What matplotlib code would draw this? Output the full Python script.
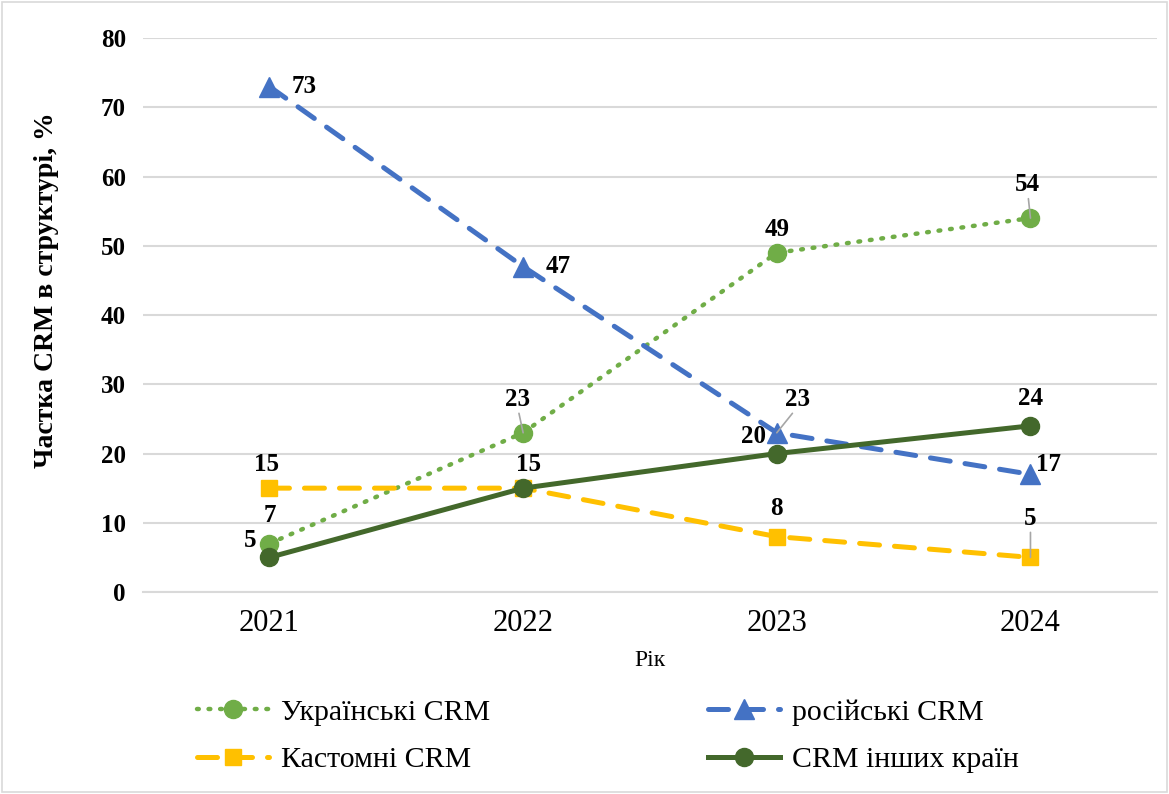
import matplotlib.pyplot as plt
from matplotlib.patches import Rectangle

plt.rcParams['font.family'] = ['Liberation Serif', 'DejaVu Serif']

years = ['2021', '2022', '2023', '2024']
ukr = [7, 23, 49, 54]
rus = [73, 47, 23, 17]
custom = [15, 15, 8, 5]
other = [5, 15, 20, 24]

x = list(range(len(years)))

fig = plt.figure(figsize=(11.69, 7.94), dpi=100)
ax = fig.add_axes([0.122, 0.2544, 0.868, 0.6976])

fig.patches.append(Rectangle((0.002, 0.002), 0.996, 0.996, transform=fig.transFigure,
                             fill=False, edgecolor='#D9D9D9', linewidth=1.2))

l_ukr, = ax.plot(x, ukr, color='#70AD47', linestyle=(0, (0.4, 2.2)), linewidth=3.2,
                 dash_capstyle='round', marker='o', markersize=13, label='Українські CRM', zorder=3)
l_rus, = ax.plot(x, rus, color='#4472C4', linestyle=(0, (4, 3)), linewidth=3.6,
                 dash_capstyle='round', marker='^', markersize=14, label='російські CRM', zorder=3)
l_cus, = ax.plot(x, custom, color='#FFC000', linestyle=(0, (4, 3)), linewidth=3.6,
                 dash_capstyle='round', marker='s', markersize=12, label='Кастомні CRM', zorder=3)
l_oth, = ax.plot(x, other, color='#43682B', linestyle='-', linewidth=3.6,
                 marker='o', markersize=13, label='CRM інших країн', zorder=4)

# label offsets in points (dx, dy) and whether a leader line is drawn
lab_ukr = [((0, 20), False), ((-4, 24), True), ((0, 17), False), ((-2, 24), True)]
lab_rus = [((25, 0), False), ((25, 0), False), ((15, 24), True), ((13, 7), False)]
lab_cus = [((-2, 17), False), None, ((0, 20), False), ((0, 28), True)]
lab_oth = [((-14, 12), False), ((4, 17), False), ((-17, 12), False), ((0, 20), False)]

for vals, labs in [(ukr, lab_ukr), (rus, lab_rus), (custom, lab_cus), (other, lab_oth)]:
    for xi, v, lab in zip(x, vals, labs):
        if lab is None:
            continue
        off, leader = lab
        ax.annotate(str(v), (xi, v), xytext=off, textcoords='offset points',
                    ha='center', va='center', fontsize=18, fontweight='bold', zorder=6)
        if leader:
            ax.annotate('', (xi, v), xytext=(off[0] * 0.75, off[1] - 10), textcoords='offset points',
                        arrowprops=dict(arrowstyle='-', color='#A6A6A6', lw=1.2,
                                        shrinkA=0, shrinkB=0), zorder=5)

ax.set_xlim(-0.5, 3.5)
ax.set_ylim(0, 80)
ax.set_yticks(range(0, 81, 10))
ax.set_xticks(x)
ax.set_xticklabels(years, fontsize=22)
ax.tick_params(axis='y', labelsize=18, length=0, pad=12)
ax.tick_params(axis='x', length=0, pad=12)
for lbl in ax.get_yticklabels():
    lbl.set_fontweight('bold')
ax.grid(axis='y', color='#D9D9D9', linewidth=1.5)
ax.set_axisbelow(True)
for s in ['top', 'right', 'left']:
    ax.spines[s].set_visible(False)
ax.spines['bottom'].set_color('#D9D9D9')
ax.spines['bottom'].set_linewidth(1.5)

ax.set_xlabel('Рік', fontsize=17, labelpad=9)
ax.set_ylabel('Частка CRM в структурі, %', fontsize=20, fontweight='bold')
ax.yaxis.set_label_coords(-0.082, 0.545)

fig.legend(handles=[l_ukr, l_cus, l_rus, l_oth], ncol=2, loc='center',
           bbox_to_anchor=(0.52, 0.073), frameon=False, fontsize=21.5,
           handlelength=2.4, columnspacing=7.3, labelspacing=0.68, handletextpad=0.4)

fig.savefig('out.png', dpi=100)
